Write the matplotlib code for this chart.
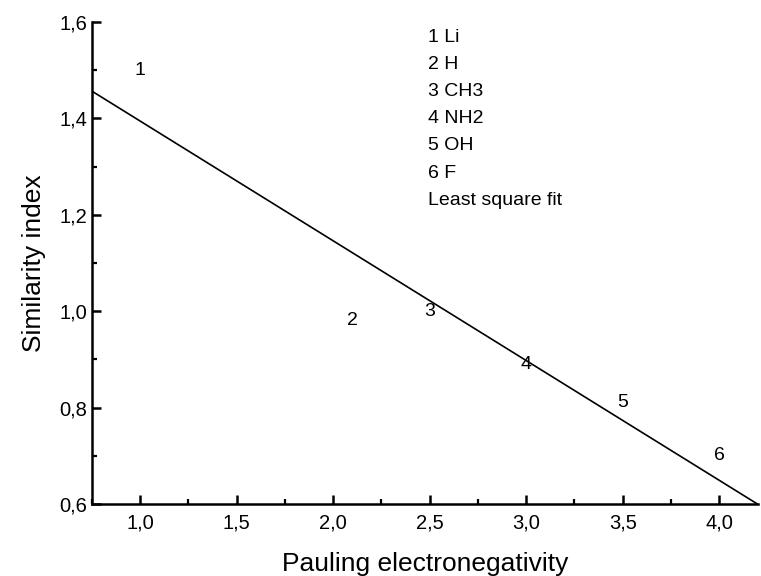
import numpy as np
import matplotlib
matplotlib.use('Agg')
from matplotlib import pyplot as plt
from matplotlib.ticker import MultipleLocator, FuncFormatter
from matplotlib.lines import Line2D

plt.rcParams['font.family'] = ['Liberation Sans', 'DejaVu Sans']

# data
labels = ['1', '2', '3', '4', '5', '6']
names = ['Li', 'H', 'CH3', 'NH2', 'OH', 'F']
electroneg = [1.0, 2.1, 2.5, 3.0, 3.5, 4.0]
similarity = [1.50, 0.98, 1.00, 0.89, 0.81, 0.70]
fit_x = [0.75, 4.2]
fit_intercept = 1.643
fit_slope = -0.2485

fig = plt.figure(figsize=(7.61, 5.76), dpi=100)
ax = fig.add_axes([0.1205, 0.125, 0.8755, 0.837])

# points are drawn as their number
for lab, x, y in zip(labels, electroneg, similarity):
    ax.text(x, y, lab, fontsize=14, ha='center', va='center')

fx = np.array(fit_x)
ax.plot(fx, fit_intercept + fit_slope * fx, color='black', lw=1.2)

ax.set_xlim(0.75, 4.2)
ax.set_ylim(0.6, 1.6)
ax.xaxis.set_major_locator(MultipleLocator(0.5))
ax.xaxis.set_minor_locator(MultipleLocator(0.25))
ax.yaxis.set_major_locator(MultipleLocator(0.2))
ax.yaxis.set_minor_locator(MultipleLocator(0.1))
comma = FuncFormatter(lambda v, p: ('%.1f' % v).replace('.', ','))
ax.xaxis.set_major_formatter(comma)
ax.yaxis.set_major_formatter(comma)

for s in ['top', 'right']:
    ax.spines[s].set_visible(False)
for s in ['left', 'bottom']:
    ax.spines[s].set_linewidth(1.8)
ax.tick_params(which='major', direction='in', length=6.5, width=1.8, labelsize=14.5)
ax.tick_params(which='minor', direction='in', length=3.5, width=1.6)
ax.tick_params(axis='x', which='major', pad=7)
ax.tick_params(axis='y', which='major', pad=3)

ax.set_xlabel('Pauling electronegativity', fontsize=19, labelpad=14)
ax.set_ylabel('Similarity index', fontsize=19, labelpad=10)

# legend: entries are plain text
handles = [Line2D([], [], linestyle='none') for _ in range(len(names) + 1)]
leg_labels = [l + ' ' + n for l, n in zip(labels, names)] + ['Least square fit']
ax.legend(handles, leg_labels, loc='upper left', bbox_to_anchor=(0.478, 1.023),
          frameon=False, handlelength=0, handletextpad=0, fontsize=14,
          labelspacing=0.49)

fig.savefig('out.png', dpi=100)
